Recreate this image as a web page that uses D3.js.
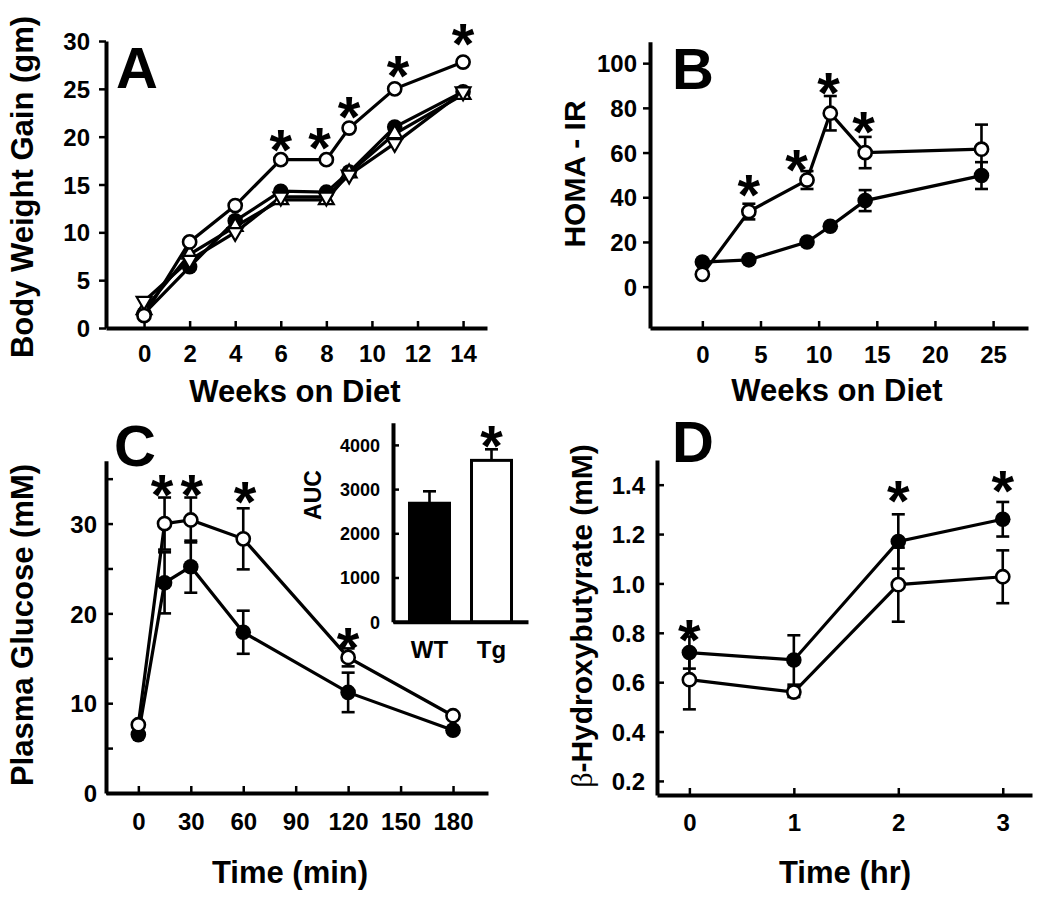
<!DOCTYPE html>
<html><head><meta charset="utf-8">
<script src="https://cdn.jsdelivr.net/npm/d3@7"></script>
<style>
body{margin:0;background:#fff;}
svg text{font-family:"Liberation Sans",Arial,sans-serif;font-weight:bold;fill:#000;}
</style></head>
<body><svg id="c" width="1050" height="906"></svg>
<script>
// ---- Panel A data ----
const weeksA = [0,2,4,6,8,9,11,14];
const tgA    = [1.3,9.0,12.8,17.6,17.6,20.9,25.0,27.8];
const wtA    = [1.5,6.4,11.2,14.3,14.2,16.3,21.0,24.7];
const upA    = [1.9,7.7,10.6,13.4,13.4,16.2,20.3,24.4];
const downA  = [2.8,7.1,10.0,13.7,13.7,16.0,19.3,24.7];
const starAx = [6,7.7,9,11.15,14];
const starAy = [20.0,20.2,23.4,27.7,31.0];
const ticksAx = [0,2,4,6,8,10,12,14];
const ticksAy = [0,5,10,15,20,25,30];
// ---- Panel B data ----
const weeksB = [0,4,9,11,14,24];
const tgB    = [5.5,33.6,47.7,77.6,60.0,61.5];
const tgBErr = [0,3.5,4,7.7,7,11];
const wtB    = [11,12,20,27,38.5,49.7];
const wtBErr = [0,0,0,0,4.7,6];
const starBx = [4,8.1,10.85,13.85];
const starBy = [47,58.2,92.5,75];
const ticksBx = [0,5,10,15,20,25];
const ticksBy = [0,20,40,60,80,100];
// ---- Panel C data ----
const timeC  = [0,15,30,60,120,180];
const tgC    = [7.6,30.0,30.4,28.3,15.1,8.6];
const tgCErr = [0.3,2.9,2.5,3.4,1.0,0.3];
const wtC    = [6.5,23.4,25.2,17.9,11.2,7.0];
const wtCErr = [0.3,3.4,2.9,2.4,2.2,0.3];
const starCx = [13.5,30.5,61,120];
const starCy = [34.6,34.6,33.9,17.6];
const ticksCx = [0,30,60,90,120,150,180];
const ticksCy = [0,5,10,15,20,25,30,35];
// inset
const aucGroups = ["WT","Tg"];
const aucVal = [2680,3650];
const aucErr = [270,250];
const ticksAuc = [0,1000,2000,3000,4000];
const starAuc = 4270;
// ---- Panel D data ----
const timeD  = [0,1,2,3];
const wtD    = [0.72,0.69,1.17,1.26];
const wtDErr = [0.065,0.1,0.11,0.07];
const tgD    = [0.61,0.56,0.995,1.027];
const tgDErr = [0.12,0.02,0.15,0.107];
const starDx = [0,2,3];
const starDy = [0.825,1.386,1.427];
const ticksDx = [0,1,2,3];
const ticksDy = [0.2,0.4,0.6,0.8,1.0,1.2,1.4];

const svg = d3.select("#c");
const TICKFS = 24;

function styleAxis(g, fs){
  g.select(".domain").attr("stroke","#000").attr("stroke-width",4);
  g.selectAll(".tick line").attr("stroke","#000").attr("stroke-width",2.5);
  g.selectAll(".tick text").attr("font-size",fs).attr("font-family","Liberation Sans, Arial, sans-serif").attr("font-weight","bold").attr("fill","#000");
}
function drawAxes(x, y, o){
  const gx = svg.append("g").attr("transform",`translate(0,${y.range()[0]})`)
    .call(d3.axisBottom(x).tickValues(o.xt).tickSize(-7).tickSizeOuter(0).tickPadding(o.xpad).tickFormat(o.xf||(d=>d)));
  styleAxis(gx, o.fs||TICKFS);
  const ya = (o.yin ? d3.axisLeft(y).tickSize(-7) : d3.axisLeft(y).tickSize(7));
  const gy = svg.append("g").attr("transform",`translate(${x.range()[0]},0)`)
    .call(ya.tickValues(o.yt).tickSizeOuter(0).tickPadding(o.ypad).tickFormat(o.yf||(d=>d)));
  styleAxis(gy, o.fs||TICKFS);
  gy.selectAll(".tick text").attr("dy","0.36em");
}
function drawLine(x,y,xs,ys){
  svg.append("path").datum(xs.map((d,i)=>[d,ys[i]]))
    .attr("fill","none").attr("stroke","#000").attr("stroke-width",3.2)
    .attr("d", d3.line().x(d=>x(d[0])).y(d=>y(d[1])));
}
function drawErr(x,y,xs,ys,es){
  const g = svg.append("g").attr("stroke","#000").attr("stroke-width",2.6);
  xs.forEach((d,i)=>{
    if(!es[i]) return;
    const cx = x(d), y1 = y(ys[i]+es[i]), y2 = y(ys[i]-es[i]);
    g.append("line").attr("x1",cx).attr("x2",cx).attr("y1",y1).attr("y2",y2);
    g.append("line").attr("x1",cx-6.5).attr("x2",cx+6.5).attr("y1",y1).attr("y2",y1);
    g.append("line").attr("x1",cx-6.5).attr("x2",cx+6.5).attr("y1",y2).attr("y2",y2);
  });
}
function drawPts(x,y,xs,ys,type){
  const g = svg.append("g");
  xs.forEach((d,i)=>{
    const cx=x(d), cy=y(ys[i]);
    if(type==="open") g.append("circle").attr("cx",cx).attr("cy",cy).attr("r",6.6).attr("fill","#fff").attr("stroke","#000").attr("stroke-width",2.6);
    else if(type==="filled") g.append("circle").attr("cx",cx).attr("cy",cy).attr("r",7.8).attr("fill","#000");
    else {
      const sym = d3.symbol().type(d3.symbolTriangle).size(95);
      g.append("path").attr("d",sym()).attr("transform",`translate(${cx},${cy}) rotate(${type==="down"?180:0})`)
        .attr("fill","#fff").attr("stroke","#000").attr("stroke-width",2.2);
    }
  });
}
function drawStars(x,y,xs,ys){
  xs.forEach((d,i)=>{
    svg.append("text").attr("x",x(d)).attr("y",y(ys[i])+33).attr("text-anchor","middle")
      .attr("font-size",58).attr("font-weight","normal").text("*");
  });
}
function letter(t,xp,yp){
  svg.append("text").attr("x",xp).attr("y",yp).attr("font-size",58).text(t);
}
function xTitle(t,cx,by){
  svg.append("text").attr("x",cx).attr("y",by).attr("text-anchor","middle").attr("font-size",31).text(t);
}
function yTitle(t,bx,cy,fs){
  return svg.append("text").attr("transform",`translate(${bx},${cy}) rotate(-90)`).attr("text-anchor","middle").attr("font-size",fs||31).text(t);
}

// ===== Panel A =====
{
  const x = d3.scaleLinear().domain([-1.67,15.05]).range([106,487]);
  const y = d3.scaleLinear().domain([0,30]).range([328,41]);
  drawAxes(x,y,{xt:ticksAx,yt:ticksAy,xpad:17,ypad:9});
  drawLine(x,y,weeksA,downA); drawLine(x,y,weeksA,upA); drawLine(x,y,weeksA,wtA); drawLine(x,y,weeksA,tgA);
  drawPts(x,y,weeksA,wtA,"filled");
  drawPts(x,y,weeksA,upA,"up");
  drawPts(x,y,weeksA,downA,"down");
  drawPts(x,y,weeksA,tgA,"open");
  drawStars(x,y,starAx,starAy);
  letter("A",116,88);
  xTitle("Weeks on Diet",295,402);
  yTitle("Body Weight Gain (gm)",33,187);
}
// ===== Panel B =====
{
  const x = d3.scaleLinear().domain([-4.5,28]).range([650,1028]);
  const y = d3.scaleLinear().domain([-18.5,109.6]).range([328,41.7]);
  drawAxes(x,y,{xt:ticksBx,yt:ticksBy,xpad:18,ypad:6});
  drawLine(x,y,weeksB,wtB); drawLine(x,y,weeksB,tgB);
  drawErr(x,y,weeksB,wtB,wtBErr); drawErr(x,y,weeksB,tgB,tgBErr);
  drawPts(x,y,weeksB,wtB,"filled");
  drawPts(x,y,weeksB,tgB,"open");
  drawStars(x,y,starBx,starBy);
  letter("B",672,89);
  xTitle("Weeks on Diet",837,401);
  yTitle("HOMA - IR",585,174,30);
}
// ===== Panel C =====
{
  const x = d3.scaleLinear().domain([-18.5,200]).range([106,488]);
  const y = d3.scaleLinear().domain([0,37]).range([793,460.7]);
  drawAxes(x,y,{xt:ticksCx,yt:ticksCy,xpad:20,ypad:9,yin:true,yf:d=>(d%10===0?d:"")});
  drawLine(x,y,timeC,wtC); drawLine(x,y,timeC,tgC);
  drawErr(x,y,timeC,wtC,wtCErr); drawErr(x,y,timeC,tgC,tgCErr);
  drawPts(x,y,timeC,wtC,"filled");
  drawPts(x,y,timeC,tgC,"open");
  drawStars(x,y,starCx,starCy);
  letter("C",114,466);
  xTitle("Time (min)",290,883);
  yTitle("Plasma Glucose (mM)",33,625);

  // inset
  const xi = d3.scaleBand().domain(aucGroups).range([393,528]).paddingInner(0.355).paddingOuter(0.266);
  const yi = d3.scaleLinear().domain([0,4500]).range([621.7,422.8]);
  const gx = svg.append("g").attr("transform",`translate(0,${yi.range()[0]})`)
    .call(d3.axisBottom(xi).tickSize(-5).tickSizeOuter(0).tickPadding(19));
  styleAxis(gx,24);
  const gy = svg.append("g").attr("transform",`translate(${xi.range()[0]},0)`)
    .call(d3.axisLeft(yi).tickValues(ticksAuc).tickSize(-6).tickSizeOuter(0).tickPadding(13).tickFormat(d3.format("d")));
  styleAxis(gy,18);
  gy.selectAll(".tick text").attr("dy","0.36em");
  aucGroups.forEach((g,i)=>{
    const cx = xi(g)+xi.bandwidth()/2;
    svg.append("line").attr("x1",cx).attr("x2",cx).attr("y1",yi(aucVal[i])).attr("y2",yi(aucVal[i]+aucErr[i])).attr("stroke","#000").attr("stroke-width",2.6);
    svg.append("line").attr("x1",cx-6.5).attr("x2",cx+6.5).attr("y1",yi(aucVal[i]+aucErr[i])).attr("y2",yi(aucVal[i]+aucErr[i])).attr("stroke","#000").attr("stroke-width",2.6);
    svg.append("rect").attr("x",xi(g)).attr("width",xi.bandwidth()).attr("y",yi(aucVal[i])).attr("height",yi(0)-yi(aucVal[i]))
      .attr("fill", i===0?"#000":"#fff").attr("stroke","#000").attr("stroke-width",3);
  });
  svg.append("text").attr("x",xi("Tg")+xi.bandwidth()/2).attr("y",yi(starAuc)+33).attr("text-anchor","middle").attr("font-size",58).attr("font-weight","normal").text("*");
  yTitle("AUC",321,495,23);
}
// ===== Panel D =====
{
  const x = d3.scaleLinear().domain([-0.31,3.28]).range([657,1032]);
  const y = d3.scaleLinear().domain([0.143,1.5]).range([795,460]);
  drawAxes(x,y,{xt:ticksDx,yt:ticksDy,xpad:19,ypad:12,yin:true,yf:d3.format(".1f")});
  drawLine(x,y,timeD,tgD); drawLine(x,y,timeD,wtD);
  drawErr(x,y,timeD,tgD,tgDErr); drawErr(x,y,timeD,wtD,wtDErr);
  drawPts(x,y,timeD,tgD,"open");
  drawPts(x,y,timeD,wtD,"filled");
  drawStars(x,y,starDx,starDy);
  letter("D",672,462);
  xTitle("Time (hr)",845,883);
  const t = yTitle("",592,616,30);
  t.append("tspan").attr("font-family","Liberation Serif, serif").attr("font-weight","normal").text("β");
  t.append("tspan").text("-Hydroxybutyrate (mM)");
}
</script></body></html>
